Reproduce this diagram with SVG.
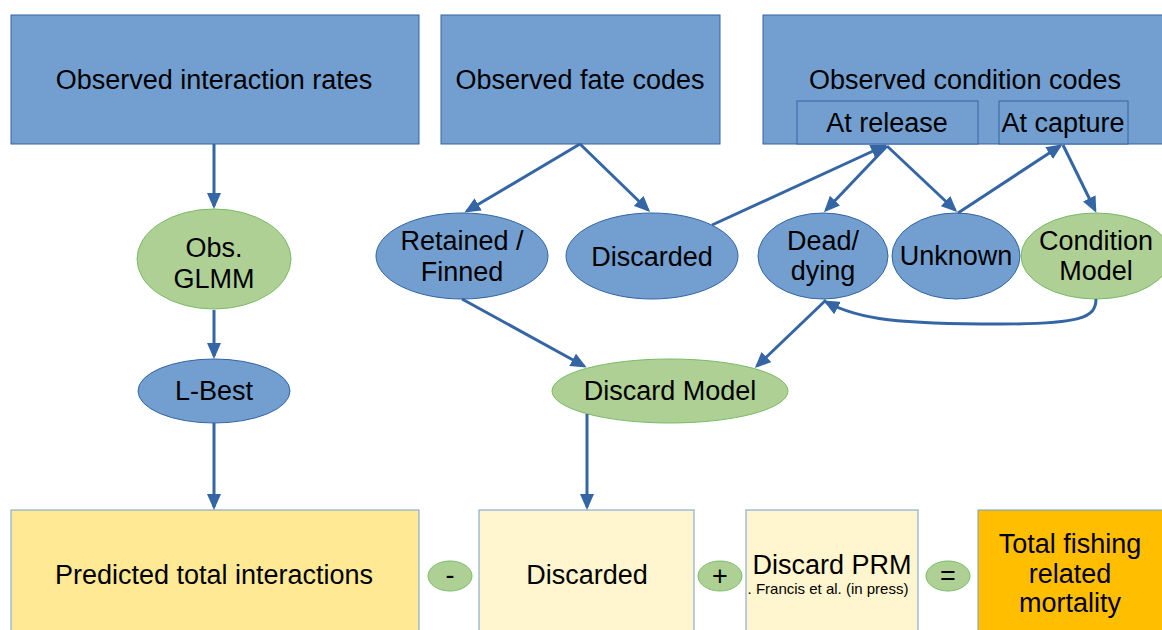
<svg xmlns="http://www.w3.org/2000/svg" width="1162" height="630" viewBox="0 0 1162 630">
<style>
text{font-family:"Liberation Sans",Arial,sans-serif;font-size:27px;fill:#000;text-anchor:middle}
.small{font-size:15px}
.blue{fill:#729fcf;stroke:#3465a4;stroke-width:1}
.green{fill:#afd095;stroke:#77bc65;stroke-width:1}
.yel{fill:#ffe994;stroke:#729fcf;stroke-width:1}
.pale{fill:#fff5ce;stroke:#729fcf;stroke-width:1}
.orange{fill:#ffbf00;stroke:#729fcf;stroke-width:1}
.con{fill:none;stroke:#3465a4;stroke-width:3}
</style>
<defs>
<marker id="ah" viewBox="0 0 16 14" refX="13" refY="7" markerWidth="16" markerHeight="14" markerUnits="userSpaceOnUse" orient="auto">
<path d="M0,0 L16,7 L0,14 z" fill="#3465a4"/>
</marker>
</defs>
<rect width="1162" height="630" fill="#fff"/>
<g id="obs-interaction"><rect class="blue" x="11" y="15" width="408" height="129"/><text x="214" y="89">Observed interaction rates</text></g>
<g id="obs-fate"><rect class="blue" x="441" y="15" width="279" height="129"/><text x="580" y="89">Observed fate codes</text></g>
<g id="obs-condition"><rect class="blue" x="763" y="15" width="410" height="129"/><text x="965" y="89">Observed condition codes</text></g>
<g id="at-release"><rect class="blue" x="797" y="101" width="181" height="43"/><text x="887" y="132">At release</text></g>
<g id="at-capture"><rect class="blue" x="999" y="101" width="129" height="43"/><text x="1063" y="132">At capture</text></g>
<g id="glmm"><ellipse class="green" cx="214" cy="259" rx="77" ry="50"/><text x="214" y="257">Obs.</text><text x="214" y="288">GLMM</text></g>
<g id="lbest"><ellipse class="blue" cx="214" cy="391" rx="76" ry="32"/><text x="214" y="400">L-Best</text></g>
<g id="retained"><ellipse class="blue" cx="462" cy="256" rx="86" ry="43"/><text x="462" y="250">Retained /</text><text x="462" y="281">Finned</text></g>
<g id="discarded-e"><ellipse class="blue" cx="652" cy="256" rx="86" ry="43"/><text x="652" y="266">Discarded</text></g>
<g id="dead"><ellipse class="blue" cx="823" cy="256" rx="65" ry="43"/><text x="823" y="250">Dead/</text><text x="823" y="280">dying</text></g>
<g id="unknown"><ellipse class="blue" cx="956" cy="256" rx="64" ry="43"/><text x="956" y="265">Unknown</text></g>
<g id="condition-model"><ellipse class="green" cx="1096" cy="256" rx="75" ry="43"/><text x="1096" y="250">Condition</text><text x="1096" y="280">Model</text></g>
<g id="discard-model"><ellipse class="green" cx="670" cy="391" rx="118" ry="32"/><text x="670" y="400">Discard Model</text></g>
<g id="predicted"><rect class="yel" x="11" y="510" width="408" height="130"/><text x="214" y="584">Predicted total interactions</text></g>
<g id="minus"><ellipse class="green" cx="450" cy="576" rx="22" ry="15"/><text x="450" y="584">-</text></g>
<g id="discarded-b"><rect class="pale" x="479" y="510" width="215" height="130"/><text x="587" y="584">Discarded</text></g>
<g id="plus"><ellipse class="green" cx="720" cy="576" rx="22" ry="15"/><text x="720" y="585">+</text></g>
<g id="prm"><rect class="pale" x="746" y="510" width="172" height="130"/><text x="832" y="574">Discard PRM</text><text class="small" x="828" y="594">. Francis et al. (in press)</text></g>
<g id="equals"><ellipse class="green" cx="948" cy="576" rx="22" ry="15"/><text x="948" y="585">=</text></g>
<g id="total"><rect class="orange" x="978" y="510" width="195" height="130"/><text x="1070" y="553">Total fishing</text><text x="1070" y="583">related</text><text x="1070" y="612">mortality</text></g>
<g id="connectors">
<path class="con" marker-end="url(#ah)" d="M214,144 L214,206"/>
<path class="con" marker-end="url(#ah)" d="M214,310 L214,356"/>
<path class="con" marker-end="url(#ah)" d="M214,423 L214,507"/>
<path class="con" marker-end="url(#ah)" d="M580,144 L467,211"/>
<path class="con" marker-end="url(#ah)" d="M580,144 L648,210"/>
<path class="con" marker-end="url(#ah)" d="M712,225 L884,146"/>
<path class="con" marker-end="url(#ah)" d="M887,146 L826,210"/>
<path class="con" marker-end="url(#ah)" d="M887,146 L955,210"/>
<path class="con" marker-end="url(#ah)" d="M958,213 L1060,146"/>
<path class="con" marker-end="url(#ah)" d="M1063,145 L1095,210"/>
<path class="con" marker-end="url(#ah)" d="M1096,299 C1096,318 1080,324 1000,324 C900,324 860,320 826,302"/>
<path class="con" marker-end="url(#ah)" d="M462,299 L584,366"/>
<path class="con" marker-end="url(#ah)" d="M826,300 L757,366"/>
<path class="con" marker-end="url(#ah)" d="M587,414 L587,507"/>
</g>
</svg>
